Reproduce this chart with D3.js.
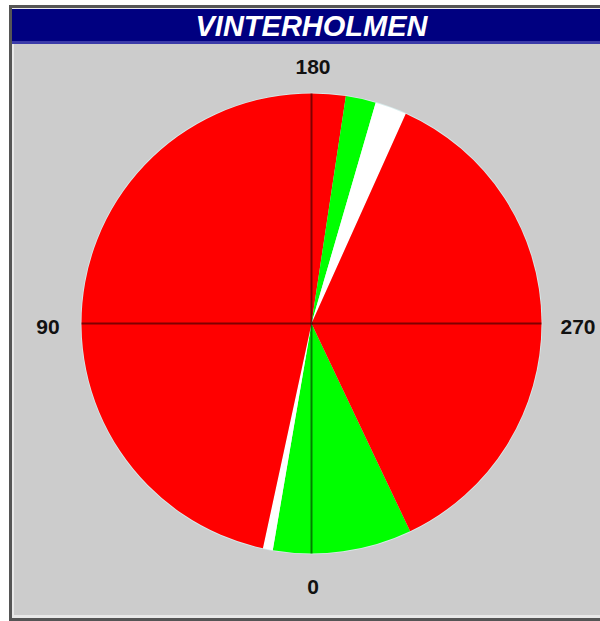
<!DOCTYPE html>
<html>
<head>
<meta charset="utf-8">
<script src="https://cdn.jsdelivr.net/npm/d3@7"></script>
<style>
  html, body { margin: 0; padding: 0; background: #ffffff; }
  svg { display: block; }
</style>
</head>
<body>
<svg id="chart" width="600" height="621"></svg>
<script>
// wind direction sectors, degrees (0 = bottom, turning towards 90 on the left)
const sectorFrom = [-25.4, 9.7, 12.2, 188.6, 196.2, 204.2];
const sectorTo = [9.7, 12.2, 188.6, 196.2, 204.2, 334.6];
const sectorStatus = ["ok", "none", "bad", "ok", "none", "bad"];
const directionLabels = [0, 90, 180, 270];
const title = "VINTERHOLMEN";

const statusColor = d3.scaleOrdinal()
    .domain(["ok", "none", "bad"])
    .range(["#00ff00", "#ffffff", "#ff0000"]);

const svg = d3.select("#chart");
const width = 600, height = 621;
const cx = 311.5, cy = 323.5, radius = 230;

// frame
svg.append("rect").attr("x", 0).attr("y", 0).attr("width", width).attr("height", height).attr("fill", "#ffffff");
svg.append("rect").attr("x", 9).attr("y", 5).attr("width", 640).attr("height", 616).attr("fill", "#555555");
svg.append("rect").attr("x", 12).attr("y", 8).attr("width", 640).attr("height", 610).attr("fill", "#e8e8e8");
svg.append("rect").attr("x", 14).attr("y", 10).attr("width", 640).attr("height", 605).attr("fill", "#cccccc");

// title bar
svg.append("rect").attr("x", 12).attr("y", 9).attr("width", 640).attr("height", 35).attr("fill", "#3a3aa8");
svg.append("rect").attr("x", 12).attr("y", 9).attr("width", 640).attr("height", 32).attr("fill", "#000080");
svg.append("text")
    .attr("x", cx).attr("y", 36)
    .attr("text-anchor", "middle")
    .attr("font-family", "Liberation Sans, Arial, sans-serif")
    .attr("font-weight", "bold").attr("font-style", "italic")
    .attr("font-size", 29)
    .attr("fill", "#ffffff")
    .text(title);

// compass degrees -> d3 arc radians (0 at top, clockwise)
const toRad = d3.scaleLinear().domain([0, 360]).range([Math.PI, 3 * Math.PI]);

const arc = d3.arc().innerRadius(0).outerRadius(radius);
const sectors = sectorFrom.map((f, i) => ({ from: f, to: sectorTo[i], status: sectorStatus[i] }));

const g = svg.append("g").attr("transform", `translate(${cx},${cy})`);

g.append("circle").attr("r", radius + 0.8).attr("fill", "#d8ecec");

g.selectAll("path.sector")
    .data(sectors)
    .join("path")
    .attr("class", "sector")
    .attr("d", d => arc({ startAngle: toRad(d.from), endAngle: toRad(d.to) }))
    .attr("fill", d => statusColor(d.status));

// cross lines
g.append("line").attr("x1", -radius).attr("x2", radius).attr("y1", 0).attr("y2", 0)
    .attr("stroke", "#000").attr("stroke-opacity", 0.5).attr("stroke-width", 2);
g.append("line").attr("x1", 0).attr("x2", 0).attr("y1", -radius).attr("y2", radius)
    .attr("stroke", "#000").attr("stroke-opacity", 0.5).attr("stroke-width", 2);

// direction labels, a little below the cross axis
const labelR = radius + 35;
g.selectAll("text.dir")
    .data(directionLabels)
    .join("text")
    .attr("class", "dir")
    .attr("x", d => -Math.sin(d * Math.PI / 180) * labelR + 1.5)
    .attr("y", d => Math.cos(d * Math.PI / 180) * (d % 180 === 0 ? radius + 30 : labelR) + 3)
    .attr("dy", "0.36em")
    .attr("text-anchor", "middle")
    .attr("font-family", "Liberation Sans, Arial, sans-serif")
    .attr("font-weight", "bold")
    .attr("font-size", 21)
    .attr("fill", "#111")
    .text(d => d);
</script>
</body>
</html>
